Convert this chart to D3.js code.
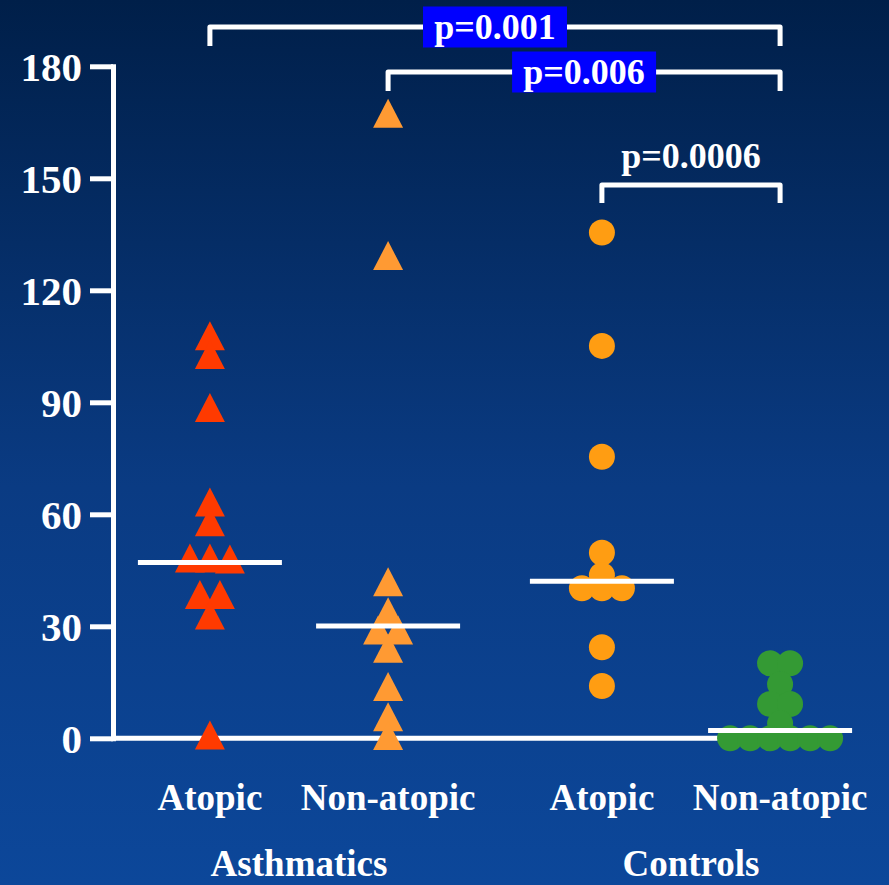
<!DOCTYPE html>
<html>
<head>
<meta charset="utf-8">
<script src="https://cdn.jsdelivr.net/npm/d3@7"></script>
<style>
  html, body { margin: 0; padding: 0; background: #0b3f8a; }
  svg { display: block; }
  text { font-family: "Liberation Serif", "Times New Roman", serif; font-weight: bold; fill: #fff; }
</style>
</head>
<body>
<div id="chart"></div>
<script>
const width = 889;
const height = 885;

// groups and subgroups on the x axis
const groups = ["Asthmatics", "Controls"];
const subgroups = ["Atopic", "Non-atopic"];

// values
const asthmaticAtopic = [107.8, 102.8, 88.6, 63.3, 58.0, 48.3, 48.0, 48.3, 38.5, 38.5, 33.0, 0.9];
const asthmaticNonAtopic = [167.4, 129.3, 41.9, 33.9, 29.0, 29.0, 24.1, 13.9, 5.8, 0.75];
const controlAtopic = [135.5, 105.1, 75.4, 49.7, 43.7, 40.2, 40.2, 40.2, 24.4, 14.0];
const controlNonAtopic = [20.1, 20.1, 14.5, 9.2, 9.2, 4.0, 0, 0, 0, 0, 0, 0];
const medians = [47.1, 30.1, 42.1, 2.1];

const yTicks = [0, 30, 60, 90, 120, 150, 180];

// comparisons: index of the two series and the p value
const comparisons = [
  { from: 0, to: 3, label: "p=0.001" },
  { from: 1, to: 3, label: "p=0.006" },
  { from: 2, to: 3, label: "p=0.0006" }
];

const series = [
  { group: "Asthmatics", sub: "Atopic", values: asthmaticAtopic },
  { group: "Asthmatics", sub: "Non-atopic", values: asthmaticNonAtopic },
  { group: "Controls", sub: "Atopic", values: controlAtopic },
  { group: "Controls", sub: "Non-atopic", values: controlNonAtopic }
];

// styles
const colors = ["#ff3a00", "#ff9a33", "#ff9d12", "#349a34"];
const shapes = ["triangle", "triangle", "circle", "circle"];
const bracketStyle = [
  { y: 27, drop: 19, box: true },
  { y: 72, drop: 19, box: true },
  { y: 185, drop: 18, box: false }
];

const svg = d3.select("#chart")
  .append("svg")
  .attr("width", width)
  .attr("height", height);

// background gradient
const grad = svg.append("defs").append("linearGradient")
  .attr("id", "bg")
  .attr("x1", 0).attr("y1", 0).attr("x2", 0).attr("y2", 1);
grad.append("stop").attr("offset", "0%").attr("stop-color", "#001f49");
grad.append("stop").attr("offset", "55%").attr("stop-color", "#0a3b83");
grad.append("stop").attr("offset", "100%").attr("stop-color", "#0c479a");

svg.append("rect")
  .attr("width", width)
  .attr("height", height)
  .attr("fill", "url(#bg)");

// scales
const y = d3.scaleLinear().domain([0, 180]).range([738.3, 66.3]);
const outer = d3.scaleBand().domain(groups).range([103, 887]);
const inner = d3.scalePoint().domain(subgroups).range([0, outer.bandwidth()]).padding(0.6);
const xPos = s => outer(s.group) + inner(s.sub);

// y axis
const yAxis = svg.append("g")
  .attr("transform", "translate(113,0)")
  .call(d3.axisLeft(y).tickValues(yTicks).tickSize(23).tickSizeOuter(0).tickPadding(8));

yAxis.select(".domain")
  .attr("stroke", "#fff")
  .attr("stroke-width", 5)
  .attr("stroke-linecap", "square");
yAxis.selectAll(".tick line")
  .attr("stroke", "#fff")
  .attr("stroke-width", 5);
yAxis.selectAll(".tick text")
  .attr("fill", "#fff")
  .attr("dy", "0.34em")
  .style("font-family", "'Liberation Serif', 'Times New Roman', serif")
  .style("font-weight", "bold")
  .style("font-size", "41px");

// zero line
svg.append("line")
  .attr("x1", 113)
  .attr("x2", xPos(series[3]) + 50)
  .attr("y1", y(0))
  .attr("y2", y(0))
  .attr("stroke", "#fff")
  .attr("stroke-width", 5);

// spread points with nearly equal values sideways
function dodge(values, step) {
  const order = d3.range(values.length).sort((a, b) => values[b] - values[a]);
  const offsets = new Array(values.length).fill(0);
  let i = 0;
  while (i < order.length) {
    let j = i + 1;
    while (j < order.length && values[order[i]] - values[order[j]] < 2) j++;
    const n = j - i;
    for (let k = i; k < j; k++) offsets[order[k]] = (k - i - (n - 1) / 2) * step;
    i = j;
  }
  return offsets;
}

const tri = "M0,-14.5L15,14.5L-15,14.5Z";

series.forEach((s, si) => {
  const cx = xPos(s);
  const offs = dodge(s.values, 20);
  const g = svg.append("g").attr("fill", colors[si]);
  if (shapes[si] === "triangle") {
    g.selectAll("path")
      .data(s.values)
      .enter()
      .append("path")
      .attr("d", tri)
      .attr("transform", (d, i) => `translate(${cx + offs[i]},${y(d)})`);
  } else {
    g.selectAll("circle")
      .data(s.values)
      .enter()
      .append("circle")
      .attr("cx", (d, i) => cx + offs[i])
      .attr("cy", d => y(d))
      .attr("r", 13);
  }
});

// median lines
svg.selectAll(".median")
  .data(medians)
  .enter()
  .append("line")
  .attr("class", "median")
  .attr("x1", (d, i) => xPos(series[i]) - 72)
  .attr("x2", (d, i) => xPos(series[i]) + 72)
  .attr("y1", d => y(d))
  .attr("y2", d => y(d))
  .attr("stroke", "#fff")
  .attr("stroke-width", 5);

// x labels
series.forEach(s => {
  svg.append("text")
    .attr("x", xPos(s))
    .attr("y", 810)
    .attr("text-anchor", "middle")
    .style("font-size", "37px")
    .text(s.sub);
});
groups.forEach(g => {
  svg.append("text")
    .attr("x", outer(g) + outer.bandwidth() / 2)
    .attr("y", 876)
    .attr("text-anchor", "middle")
    .style("font-size", "37px")
    .text(g);
});

// significance brackets
comparisons.forEach((c, i) => {
  const b = bracketStyle[i];
  const x1 = xPos(series[c.from]);
  const x2 = xPos(series[c.to]);
  svg.append("path")
    .attr("d", `M${x1},${b.y + b.drop}V${b.y}H${x2}V${b.y + b.drop}`)
    .attr("fill", "none")
    .attr("stroke", "#fff")
    .attr("stroke-width", 5)
    .attr("stroke-linejoin", "round");
  const mid = (x1 + x2) / 2;
  if (b.box) {
    svg.append("rect")
      .attr("x", mid - 72)
      .attr("y", b.y - 20.5)
      .attr("width", 144)
      .attr("height", 41)
      .attr("fill", "#0000ff");
    svg.append("text")
      .attr("x", mid)
      .attr("y", b.y + 12)
      .attr("text-anchor", "middle")
      .style("font-size", "36px")
      .text(c.label);
  } else {
    svg.append("text")
      .attr("x", mid)
      .attr("y", b.y - 17)
      .attr("text-anchor", "middle")
      .style("font-size", "36px")
      .text(c.label);
  }
});
</script>
</body>
</html>
